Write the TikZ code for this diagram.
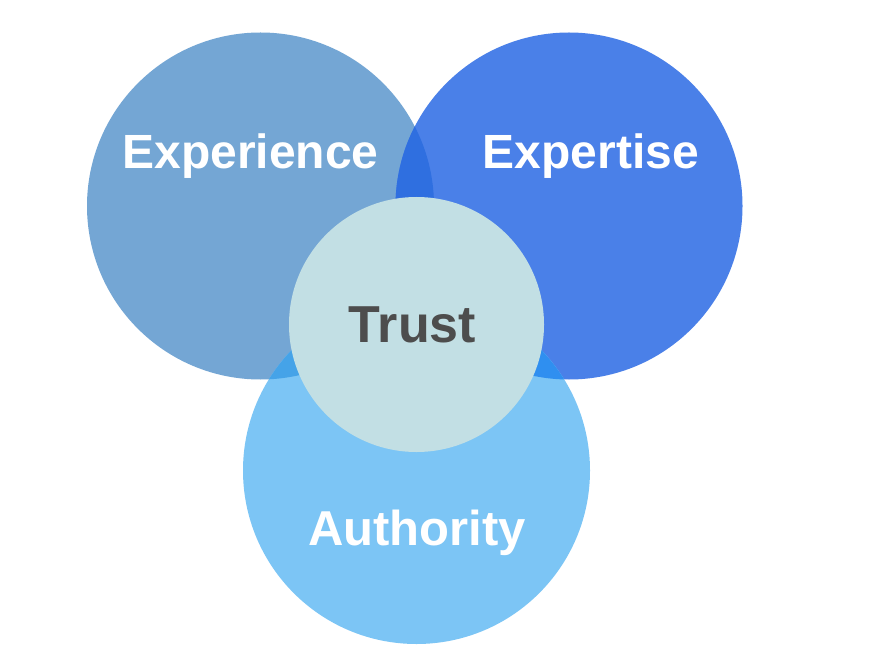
\documentclass[tikz,border=0pt]{standalone}
\usepackage{fontspec}
\setmainfont{Liberation Sans}
\begin{document}
\begin{tikzpicture}[x=1pt,y=-1pt,
  big/.style={circle,minimum size=347pt,inner sep=0pt,outer sep=0pt,draw=none},
  lbl/.style={font=\fontsize{48}{48}\selectfont\bfseries,text=white,anchor=base,inner sep=0pt},
  ]
\definecolor{cexp}{HTML}{74A6D4}
\definecolor{cexpt}{HTML}{4A80E8}
\definecolor{cauth}{HTML}{7CC5F5}
\definecolor{ctrust}{HTML}{C2DFE4}
\definecolor{cEX}{HTML}{2F6FE0}
\definecolor{cEA}{HTML}{45A3E8}
\definecolor{cXA}{HTML}{2F8FF0}
\definecolor{ctxt}{HTML}{4D4D4D}
\useasboundingbox (0,0) rectangle (874,668);
\fill[white] (0,0) rectangle (874,668);
% main circles
\node[big,fill=cexp] (exp) at (260.5,206) {};
\node[big,fill=cexpt] (expt) at (569,206) {};
\node[big,fill=cauth] (auth) at (416.5,470.5) {};
% overlaps
\begin{scope}
  \clip (260.5,206) circle (173.5);
  \fill[cEX] (569,206) circle (173.5);
\end{scope}
\begin{scope}
  \clip (260.5,206) circle (173.5);
  \fill[cEA] (416.5,470.5) circle (173.5);
\end{scope}
\begin{scope}
  \clip (569,206) circle (173.5);
  \fill[cXA] (416.5,470.5) circle (173.5);
\end{scope}
% trust circle
\node[circle,minimum size=255pt,inner sep=0pt,fill=ctrust] (trust) at (416.5,324.5) {};
% labels
\node[lbl] (lexp) at (250.5,168.5) {Experience};
\node[lbl] (lexpt) at (591,169) {Expertise};
\node[lbl,text=ctxt,font=\fontsize{52}{52}\selectfont\bfseries] (ltrust) at (412.5,342) {Trust};
\node[lbl,font=\fontsize{49}{49}\selectfont\bfseries] (lauth) at (417,545) {Authority};
\end{tikzpicture}
\end{document}
